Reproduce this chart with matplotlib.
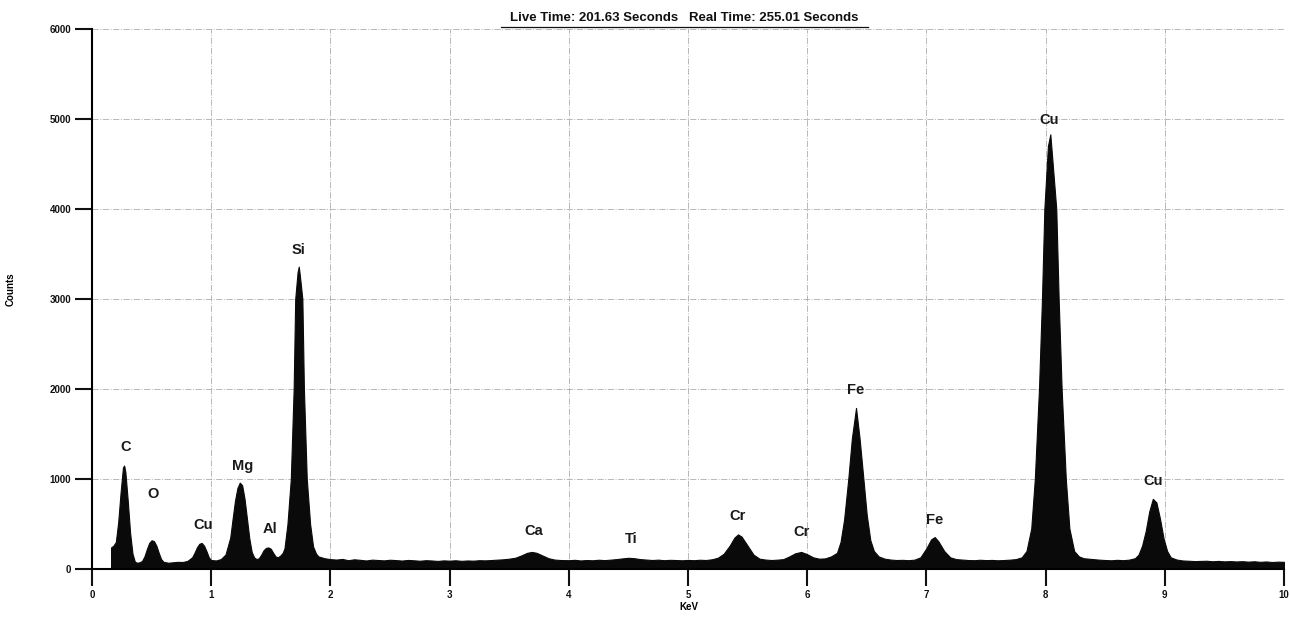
import matplotlib.pyplot as plt
from matplotlib.lines import Line2D

# EDS spectrum (keV, counts)
energy = [0.16, 0.18, 0.20, 0.22, 0.24, 0.26, 0.27, 0.28, 0.30, 0.32, 0.34, 0.36, 0.38, 0.40,
          0.42, 0.44, 0.46, 0.48, 0.50, 0.52, 0.54, 0.56, 0.58, 0.60, 0.64, 0.68, 0.72, 0.76,
          0.80, 0.84, 0.86, 0.88, 0.90, 0.92, 0.94, 0.96, 0.98, 1.00,
          1.04, 1.08, 1.12, 1.16, 1.18, 1.20, 1.22, 1.24, 1.26, 1.28, 1.30, 1.32, 1.34, 1.36,
          1.38, 1.40, 1.42, 1.44, 1.46, 1.48, 1.50, 1.52, 1.54, 1.56, 1.58,
          1.60, 1.615, 1.64, 1.668, 1.692, 1.705, 1.725, 1.735, 1.745, 1.765, 1.778, 1.802,
          1.83, 1.855, 1.88, 1.90, 1.95, 2.00,
          2.05, 2.10, 2.15, 2.20, 2.25, 2.30, 2.35, 2.40, 2.45, 2.50, 2.55, 2.60, 2.65, 2.70,
          2.75, 2.80, 2.85, 2.90, 2.95, 3.00, 3.05, 3.10, 3.15, 3.20, 3.25, 3.30, 3.35, 3.40,
          3.45, 3.50,
          3.55, 3.60, 3.65, 3.69, 3.73, 3.78, 3.83, 3.88, 3.93,
          4.00, 4.05, 4.10, 4.15, 4.20, 4.25, 4.30, 4.35, 4.40, 4.45, 4.50, 4.55, 4.60, 4.65,
          4.70, 4.75, 4.80, 4.85, 4.90, 4.95, 5.00, 5.05, 5.10, 5.15, 5.20,
          5.25, 5.30, 5.35, 5.39, 5.42, 5.45, 5.50, 5.55, 5.60, 5.65, 5.70, 5.75, 5.80, 5.85,
          5.90, 5.95, 6.00, 6.05, 6.10, 6.15, 6.20,
          6.25, 6.28, 6.31, 6.345, 6.375, 6.41, 6.44, 6.472, 6.50, 6.53, 6.56, 6.60, 6.65,
          6.70, 6.75, 6.80, 6.85, 6.90,
          6.95, 7.00, 7.04, 7.07, 7.10, 7.15, 7.20, 7.25, 7.30, 7.35, 7.40, 7.45, 7.50, 7.55,
          7.60, 7.65, 7.70, 7.75, 7.80,
          7.84, 7.88, 7.91, 7.945, 7.97, 7.99, 8.02, 8.04, 8.06, 8.09, 8.11, 8.135, 8.17,
          8.20, 8.24, 8.28, 8.32,
          8.36, 8.40, 8.45, 8.50, 8.55, 8.60, 8.65, 8.70, 8.75, 8.78, 8.81, 8.84, 8.87, 8.90,
          8.93, 8.96, 8.99, 9.02, 9.05, 9.10, 9.15, 9.20,
          9.25, 9.30, 9.35, 9.40, 9.45, 9.50, 9.55, 9.60, 9.65, 9.70, 9.75, 9.80, 9.85, 9.90,
          9.95, 10.0]
counts = [240, 260, 300, 520, 850, 1130, 1150, 1080, 760, 400, 170, 80, 70, 75,
          90, 140, 220, 290, 320, 310, 260, 180, 110, 80, 70, 75, 80, 78,
          90, 130, 180, 240, 280, 290, 260, 200, 130, 100,
          95, 110, 160, 350, 560, 760, 900, 960, 930, 780, 560, 340, 190, 130,
          110, 120, 160, 210, 235, 240, 225, 180, 140, 130, 150,
          180, 230, 500, 1000, 2000, 3000, 3300, 3360, 3250, 3000, 2000, 1000,
          500, 250, 170, 140, 120, 110,
          105, 112, 98, 108, 102, 95, 104, 100, 96, 103, 99, 94, 101, 97,
          92, 98, 95, 90, 96, 93, 97, 91, 95, 93, 98, 96, 100, 104,
          108, 115,
          125, 150, 180, 190, 180, 150, 120, 105, 100,
          98, 102, 95, 100, 97, 103, 99, 104, 110, 118, 125, 120, 110, 105,
          100, 104, 98, 102, 100, 97, 101, 98, 103, 100, 108,
          125, 170, 260, 350, 385, 360, 260, 160, 115, 105, 100, 104, 110, 140,
          175, 190, 165, 130, 115, 118, 140,
          180, 300, 550, 1000, 1450, 1790, 1450, 1000, 600, 320, 200, 140, 115,
          105, 100, 102, 98, 104,
          130, 230, 330, 355, 310, 200, 130, 110, 105, 100, 98, 103, 99, 101,
          97, 100, 104, 110, 130,
          200, 450, 1000, 2000, 3000, 4000, 4700, 4830, 4500, 4000, 3000, 2000, 1000,
          450, 200, 140, 120,
          115, 110, 104, 100, 97, 102, 98, 104, 120, 160, 260, 420, 640, 780,
          740, 560, 340, 200, 130, 105, 95, 92,
          88, 90, 92, 86, 90, 85, 88, 84, 87, 82, 86, 80, 84, 78,
          82, 80]

peak_labels = ['C', 'O', 'Cu', 'Mg', 'Al', 'Si', 'Ca', 'Ti', 'Cr', 'Cr', 'Fe', 'Fe', 'Cu', 'Cu']
label_x = [0.28, 0.51, 0.93, 1.26, 1.49, 1.73, 3.71, 4.52, 5.42, 5.95, 6.41, 7.07, 8.03, 8.90]
label_y = [1360, 830, 490, 1140, 440, 3540, 420, 330, 590, 410, 1990, 545, 4990, 980]

plt.rcParams['font.family'] = ['Liberation Sans', 'DejaVu Sans']
fig = plt.figure(figsize=(12.9, 6.35), dpi=100)
ax = fig.add_axes([0.0713, 0.1039, 0.924, 0.8504])

ax.fill_between(energy, counts, 0, color='#0a0a0a', linewidth=0.8, edgecolor='#0a0a0a')

for lab, lx, ly in zip(peak_labels, label_x, label_y):
    ax.text(lx, ly, lab, ha='center', va='center', fontsize=10.5, fontweight='bold', color='#1a1a1a')

ax.set_xlim(0, 10)
ax.set_ylim(0, 6000)
ax.set_xticks(range(0, 11))
ax.set_yticks(range(0, 6001, 1000))
ax.tick_params(axis='both', direction='out', length=12, width=1.5, pad=3,
               labelsize=7, colors='#111111')
for t in ax.get_xticklabels() + ax.get_yticklabels():
    t.set_fontweight('bold')
ax.grid(True, color='#9a9a9a', linestyle='-.', linewidth=0.7, alpha=0.7)
ax.set_axisbelow(True)

ax.spines['top'].set_visible(False)
ax.spines['right'].set_visible(False)
ax.spines['left'].set_linewidth(1.5)
ax.spines['bottom'].set_linewidth(1.5)

ax.set_xlabel('KeV', fontsize=7, fontweight='bold')
ax.set_ylabel('Counts', fontsize=7, fontweight='bold')
ax.xaxis.set_label_coords(0.5008, -0.061)
ax.yaxis.set_label_coords(-0.064, 0.518)

fig.text(0.53, 0.972, 'Live Time: 201.63 Seconds   Real Time: 255.01 Seconds',
         ha='center', va='center', fontsize=9.5, fontweight='bold', color='#111111')
fig.add_artist(Line2D([0.388, 0.673], [0.957, 0.957], color='#111111', linewidth=0.9))

fig.savefig('out.png', dpi=100)
